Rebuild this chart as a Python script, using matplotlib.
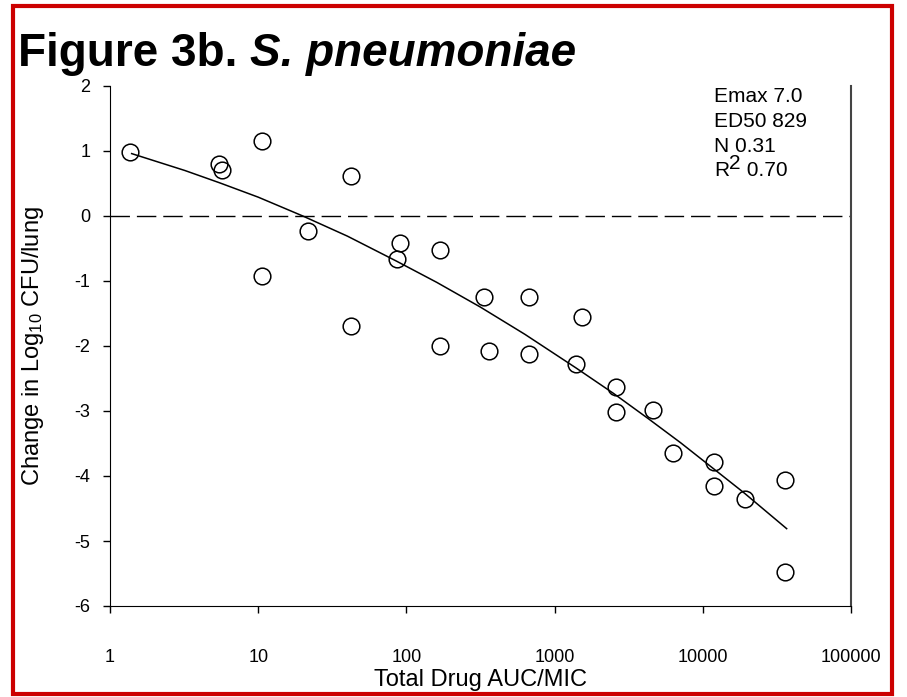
import matplotlib
matplotlib.use("Agg")
import matplotlib.pyplot as plt
from matplotlib.patches import Rectangle

plt.rcParams['font.family'] = ['Liberation Sans', 'DejaVu Sans']
plt.rcParams['mathtext.default'] = 'regular'
plt.rcParams['axes.unicode_minus'] = False

# observed data (total drug AUC/MIC, change in log10 CFU/lung)
auc_mic = [1.36, 5.44, 5.66, 10.6, 10.6, 21.6, 42.4, 42.4, 86.7, 90.5,
           168, 168, 336, 360, 675, 675, 1387, 1524, 2608, 2608,
           4585, 6327, 11830, 11830, 19150, 35900, 35900]
change_cfu = [0.99, 0.80, 0.71, 1.15, -0.92, -0.23, 0.62, -1.69, -0.66, -0.41,
              -0.52, -2.00, -1.24, -2.07, -1.25, -2.12, -2.28, -1.55, -2.63, -3.02,
              -2.99, -3.64, -3.79, -4.16, -4.35, -4.06, -5.48]

# fitted Emax curve
fit_x = [1.4, 3.2, 5.5, 10, 20, 40, 85, 160, 315, 630,
         1400, 2500, 4300, 7100, 12000, 19000, 36800]
fit_y = [0.96, 0.70, 0.51, 0.29, 0.00, -0.31, -0.69, -1.02, -1.40, -1.82,
         -2.34, -2.73, -3.12, -3.49, -3.90, -4.26, -4.81]

stats = ["Emax 7.0", "ED50 829", "N 0.31"]
r2_value = " 0.70"
x_ticks = [1, 10, 100, 1000, 10000, 100000]
y_ticks = [-6, -5, -4, -3, -2, -1, 0, 1, 2]

W, H = 907, 697
fig = plt.figure(figsize=(W / 100, H / 100), dpi=100)
ax = fig.add_axes([110 / W, 91 / H, 741 / W, 520 / H])

ax.axhline(0, color="black", lw=1, dashes=(14, 5))
ax.plot(fit_x, fit_y, color="black", lw=1.1)
ax.plot(auc_mic, change_cfu, linestyle="none", marker="o", ms=12,
        mfc="none", mec="black", mew=1.1)

ax.set_xscale("log")
ax.set_xlim(1, 100000)
ax.set_ylim(-6, 2)
ax.set_xticks(x_ticks)
ax.set_xticklabels([str(t) for t in x_ticks])
ax.minorticks_off()
ax.set_yticks(y_ticks)

ax.spines["top"].set_visible(False)
ax.spines["right"].set_color("#444444")
ax.spines["right"].set_linewidth(1.5)
ax.tick_params(axis="both", direction="out", length=5, width=1, labelsize=13)
ax.tick_params(axis="x", pad=26)
ax.tick_params(axis="y", pad=9)

ax.set_xlabel("Total Drug AUC/MIC", fontsize=17)
ax.set_ylabel("Change in Log$_{10}$ CFU/lung", fontsize=17)
ax.xaxis.set_label_coords(0.5, -0.122)
ax.yaxis.set_label_coords(-0.086, 0.5)

fs = 15
for i, s in enumerate(stats):
    fig.text(714 / W, 1 - (97 + 24.5 * i) / H, s, fontsize=fs, va="center")

# R squared line with a full-size raised "2"
fig.canvas.draw()
r = fig.canvas.get_renderer()
y_r2 = 1 - (97 + 24.5 * 3) / H
tr = fig.text(714 / W, y_r2, "R", fontsize=fs, va="center")
x1 = tr.get_window_extent(r).x1
t2 = fig.text(x1 / W, y_r2 + 7 / H, "2", fontsize=fs, va="center")
x2 = t2.get_window_extent(r).x1
fig.text(x2 / W, y_r2, r2_value, fontsize=fs, va="center")

# title: bold part + bold italic species
t1 = fig.text(18 / W, 1 - 66 / H, "Figure 3b. ", fontsize=33,
              fontweight="bold", va="baseline")
bb = t1.get_window_extent(r)
fig.text(bb.x1 / W, 1 - 66 / H, "S. pneumoniae", fontsize=33,
         fontweight="bold", fontstyle="italic", va="baseline")

fig.patches.append(Rectangle((13 / W, 3 / H), 879 / W, 688 / H,
                             transform=fig.transFigure, fill=False,
                             edgecolor="#cc0000", lw=3))

fig.savefig("out.png", dpi=100)
